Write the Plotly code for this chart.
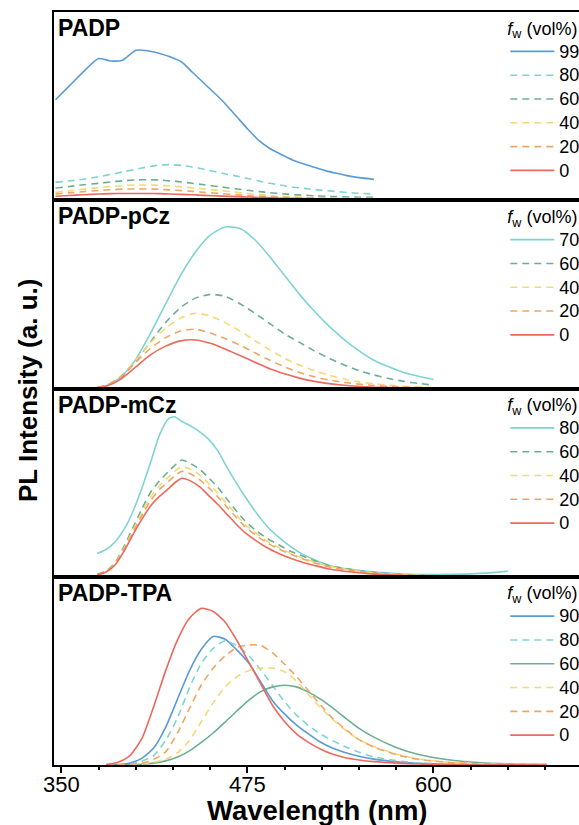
import plotly.graph_objects as go
from plotly.subplots import make_subplots

# ---------------- data ----------------
panel_names = ["PADP", "PADP-pCz", "PADP-mCz", "PADP-TPA"]

# Panel 1: PADP
wl_padp = [346, 355, 365, 375, 383, 391, 400, 408, 416, 423, 431, 438, 446, 458, 468, 475, 483, 490, 498, 505, 513, 520, 528, 535, 542, 550, 560]
padp_99 = [53.4, 60.5, 68.5, 75.3, 74, 74.4, 79.7, 79.4, 78, 76.2, 73.3, 68, 62, 53, 44.2, 38, 31.5, 27.5, 24.2, 21.5, 19.2, 17.5, 15.6, 14.3, 13.1, 12, 11.1]
padp_80 = [9.5, 10.2, 11.2, 12.5, 13.7, 15, 16.5, 17.7, 18.7, 18.9, 18.5, 17.7, 16.5, 14.3, 12.8, 11.6, 10.2, 9, 8, 7, 6.3, 5.7, 5.1, 4.6, 4.1, 3.7, 3.3]
padp_60 = [6.5, 7.3, 8.2, 9, 9.7, 10.3, 10.8, 10.9, 10.7, 10.3, 9.7, 9, 8.2, 7, 6, 5.3, 4.6, 4, 3.5, 3, 2.7, 2.4, 2.1, 1.9, 1.7, 1.6, 1.5]
padp_40 = [4.2, 5, 5.9, 6.7, 7.3, 7.8, 8.1, 8.1, 7.9, 7.6, 7.1, 6.6, 6, 5, 4.2, 3.6, 3, 2.5, 2.1, 1.8, 1.6, 1.4, 1.3, 1.2, 1.1, 1.05, 1]
padp_20 = [3.3, 3.9, 4.6, 5.2, 5.6, 5.9, 6, 6, 5.8, 5.5, 5.1, 4.7, 4.2, 3.5, 2.9, 2.5, 2.1, 1.8, 1.5, 1.3, 1.1, 1, 0.9, 0.8, 0.7, 0.65, 0.6]
padp_0 = [2.1, 2.5, 2.9, 3.3, 3.5, 3.6, 3.6, 3.6, 3.5, 3.3, 3.1, 2.9, 2.6, 2.2, 1.9, 1.7, 1.5, 1.3, 1.1, 1, 0.9, 0.8, 0.7, 0.65, 0.6, 0.55, 0.5]

# Panel 2: PADP-pCz
wl_pcz = [358, 370, 380, 390, 400, 410, 420, 430, 440, 450, 460, 470, 480, 490, 500, 510, 520, 530, 540, 550, 560, 570, 580, 590, 600]
pcz_70 = [0, 0.2, 1.5, 6, 15.5, 29.5, 45, 60, 72.5, 81.5, 85.8, 85, 79, 70, 60, 50, 41, 33, 26, 20, 15, 11.5, 8.5, 6.5, 4.8]
pcz_60 = [0, 0.2, 1.5, 6, 14.5, 25, 35, 43, 48, 50, 49, 45, 40, 34.5, 29, 24.5, 20, 16, 12.5, 9.5, 7.2, 5.3, 3.8, 2.7, 1.8]
pcz_40 = [0, 0.2, 1.5, 6.5, 15, 24.5, 32, 37.5, 40, 38.5, 35, 30.5, 25.5, 20.5, 16, 12.5, 9.5, 7, 5, 3.5, 2.5, 1.8, 1.2, 0.8, 0.5]
pcz_20 = [0, 0.2, 1.5, 6.5, 14, 21.5, 27, 30.5, 31.5, 29.5, 26.5, 23, 19, 15, 11.5, 8.5, 6.2, 4.5, 3.2, 2.3, 1.6, 1.1, 0.8, 0.5, 0.4]
pcz_0 = [0, 0.1, 1.2, 5, 11.5, 18, 22.5, 25.3, 25.8, 24, 21, 17.5, 14, 10.5, 7.8, 5.5, 3.8, 2.6, 1.7, 1.1, 0.7, 0.5, 0.35, 0.25, 0.2]

# Panel 3: PADP-mCz
wl_mcz = [374, 380, 386, 392, 398, 404, 410, 416, 422, 426, 431, 437, 443, 449, 455, 461, 467, 473, 480, 488, 496, 504, 512, 520, 530, 545, 560, 580, 600, 620, 640, 650]
mcz_80 = [12.4, 14.5, 18.5, 25, 34.5, 47, 61, 75.5, 84, 85, 82.5, 80, 77, 73, 67, 58.5, 50.5, 43, 35, 27, 21, 16, 12, 9, 6, 3.8, 2.5, 1.5, 1.2, 1.4, 2.2, 3]
mcz_60 = [1.2, 3, 7.5, 16, 26, 36, 45, 51, 56, 59, 62, 60, 57, 52.5, 47.5, 41.5, 35.5, 30, 25, 20.5, 17, 13.5, 11, 8.5, 6, 3.8, 2.3, 1.1, 0.6, 0.4, 0.3, 0.3]
mcz_40 = [1, 2.8, 7, 15, 24.5, 34, 42.5, 48.5, 53, 56, 58.5, 57, 54, 49.5, 44.5, 39, 33.5, 28, 23.5, 19, 15.5, 12.5, 10, 7.8, 5.5, 3.4, 2, 1, 0.5, 0.35, 0.3, 0.3]
mcz_20 = [1, 2.7, 6.7, 14.3, 23.4, 32.5, 40.6, 46.4, 50.7, 53.5, 56, 54.5, 51.5, 47.3, 42.5, 37.2, 32, 26.8, 22.4, 18.1, 14.8, 11.9, 9.5, 7.4, 5.2, 3.2, 1.9, 0.9, 0.5, 0.3, 0.3, 0.3]
mcz_0 = [1, 2.5, 6.2, 13.5, 22.3, 30.5, 37.7, 42.8, 46.8, 49.8, 52.3, 50.8, 47.7, 43.1, 38.5, 33.4, 28.3, 23.7, 19.6, 15.5, 12.4, 9.8, 7.7, 6, 4.1, 2.5, 1.4, 0.7, 0.4, 0.3, 0.25, 0.25]

# Panel 4: PADP-TPA
wl_tpa = [380, 388, 396, 404, 412, 420, 428, 436, 444, 452, 460, 468, 476, 484, 492, 500, 508, 516, 524, 532, 540, 550, 560, 575, 590, 610, 630, 650, 676]
tpa_90 = [0, 0.2, 1, 3.5, 9, 20, 35, 50, 61.5, 68.3, 66.8, 61, 54, 44, 34, 27, 21.2, 16.5, 12.2, 9, 6.8, 4.6, 3.1, 1.7, 0.9, 0.4, 0.2, 0.1, 0.05]
tpa_80 = [0, 0.1, 0.5, 2, 5, 13, 25, 41, 54, 62, 66, 63.3, 58, 50.5, 42, 33.5, 26.5, 21, 16.5, 13, 10, 6.8, 4.3, 2.3, 1.1, 0.4, 0.2, 0.1, 0.05]
tpa_60 = [0, 0, 0.1, 0.4, 1, 2.2, 4.2, 7.5, 12, 17, 22.8, 28.8, 34.5, 39, 41.5, 42.4, 41.5, 38.7, 35, 30.5, 25.5, 19.5, 14.8, 9.3, 5.6, 2.8, 1.3, 0.6, 0.35]
tpa_40 = [0, 0, 0.2, 0.6, 1.5, 3, 6.5, 13, 23, 33, 41.5, 47, 50.2, 51.5, 51.5, 49.5, 44.5, 37.5, 30.5, 24.5, 19, 13.5, 9.8, 5.8, 3.2, 1.5, 0.7, 0.35, 0.1]
tpa_20 = [0, 0, 0.3, 1, 3, 7, 17, 30, 42.5, 51.5, 58, 62.5, 63.8, 63.5, 59.5, 53.5, 47, 39.5, 32, 25, 19.5, 13.5, 9.5, 5.5, 3, 1.4, 0.7, 0.35, 0.1]
tpa_0 = [0.2, 1.5, 5, 14, 31, 50, 66.5, 78, 83.2, 81.5, 76, 66, 54.5, 43, 31.5, 23, 16.5, 12, 8.5, 5.8, 4, 2.7, 1.8, 1, 0.5, 0.2, 0.1, 0.05, 0]

x_ticks = [350, 475, 600]

# ---------------- styles ----------------
BLUE = "#5B9BD5"
CYAN = "#7FD3D3"
GREEN = "#6BAE95"
YELLOW = "#F6D876"
ORANGE = "#EFA663"
RED = "#EC6A5C"
DASH = "7px,5px"

panels = [
    (wl_padp, [("99", padp_99, BLUE, "solid"), ("80", padp_80, CYAN, DASH), ("60", padp_60, GREEN, DASH),
               ("40", padp_40, YELLOW, DASH), ("20", padp_20, ORANGE, DASH), ("0", padp_0, RED, "solid")]),
    (wl_pcz, [("70", pcz_70, CYAN, "solid"), ("60", pcz_60, GREEN, DASH), ("40", pcz_40, YELLOW, DASH),
              ("20", pcz_20, ORANGE, DASH), ("0", pcz_0, RED, "solid")]),
    (wl_mcz, [("80", mcz_80, CYAN, "solid"), ("60", mcz_60, GREEN, DASH), ("40", mcz_40, YELLOW, DASH),
              ("20", mcz_20, ORANGE, DASH), ("0", mcz_0, RED, "solid")]),
    (wl_tpa, [("90", tpa_90, BLUE, "solid"), ("80", tpa_80, CYAN, DASH), ("60", tpa_60, GREEN, "solid"),
              ("40", tpa_40, YELLOW, DASH), ("20", tpa_20, ORANGE, DASH), ("0", tpa_0, RED, "solid")]),
]

FONT = "Liberation Sans, Arial, sans-serif"
W, H = 579, 825
ML, MR, MT, MB = 54, 0, 12, 60

fig = make_subplots(rows=4, cols=1, shared_xaxes=True, vertical_spacing=0)

legend_ids = ["legend", "legend2", "legend3", "legend4"]
for i, (wl, series) in enumerate(panels):
    for name, vals, color, dash in series:
        fig.add_trace(go.Scatter(x=wl, y=vals, mode="lines",
                                 name=f"<span style='font-size:18px'>{name}</span>",
                                 line=dict(color=color, width=1.6, dash=dash, shape="spline", smoothing=0.6),
                                 legend=legend_ids[i], showlegend=True),
                      row=i + 1, col=1)

plot_h = H - MT - MB
panel_tops = [1 - i * 0.25 for i in range(4)]

layout_legends = {}
for i, lid in enumerate(legend_ids):
    layout_legends[lid] = dict(
        x=1.012, xanchor="right", y=panel_tops[i] - 3 / plot_h, yanchor="top",
        bgcolor="rgba(0,0,0,0)", borderwidth=0,
        font=dict(family=FONT, size=16, color="black"),
        title=dict(text="<span style='font-size:18px'><i>f</i><sub>w</sub> (vol%)</span>",
                   font=dict(family=FONT, size=15, color="black")),
        itemwidth=44, tracegroupgap=0, traceorder="normal",
    )
fig.update_layout(**layout_legends)

for r in range(1, 5):
    fig.update_yaxes(range=[0, 100], showgrid=False, zeroline=False, showticklabels=False, ticks="",
                     showline=True, linecolor="black", linewidth=2, mirror=False, row=r, col=1)
    fig.update_xaxes(range=[345, 345 + (W - ML - MR) / 1.488], showgrid=False, zeroline=False,
                     showline=True, linecolor="black", linewidth=2, mirror=True,
                     row=r, col=1)
    if r < 4:
        fig.update_xaxes(showticklabels=False, ticks="", row=r, col=1)

fig.update_xaxes(tickvals=x_ticks, ticks="outside", ticklen=6, tickwidth=2, tickcolor="black",
                 tickfont=dict(family=FONT, size=22, color="black"), showticklabels=True,
                 ticklabelstandoff=-7,
                 minor=dict(dtick=25, tick0=350, ticks="outside", ticklen=3, tickwidth=1.5, tickcolor="black"),
                 row=4, col=1)

annotations = []
for i, name in enumerate(panel_names):
    annotations.append(dict(text=f"<b>{name}</b>", x=0, y=panel_tops[i], xref="paper", yref="paper",
                            xanchor="left", yanchor="top", xshift=2, yshift=-1, showarrow=False,
                            font=dict(family=FONT, size=23, color="black")))
annotations.append(dict(text="<b>Wavelength (nm)</b>", x=(317.5 - ML) / (W - ML - MR), y=(H - MB - 810) / plot_h,
                        xref="paper", yref="paper", xanchor="center", yanchor="middle", showarrow=False,
                        font=dict(family=FONT, size=27.5, color="black")))
annotations.append(dict(text="<b>PL Intensity (a. u.)</b>", x=(28 - ML) / (W - ML - MR), y=(H - MB - 391) / plot_h,
                        xref="paper", yref="paper", xanchor="center", yanchor="middle", showarrow=False,
                        textangle=-90, font=dict(family=FONT, size=26, color="black")))

fig.update_layout(width=W, height=H, margin=dict(l=ML, r=MR, t=MT, b=MB, autoexpand=False),
                  paper_bgcolor="white", plot_bgcolor="white", annotations=annotations,
                  font=dict(family=FONT, color="black"))

fig.write_html("out.html")
